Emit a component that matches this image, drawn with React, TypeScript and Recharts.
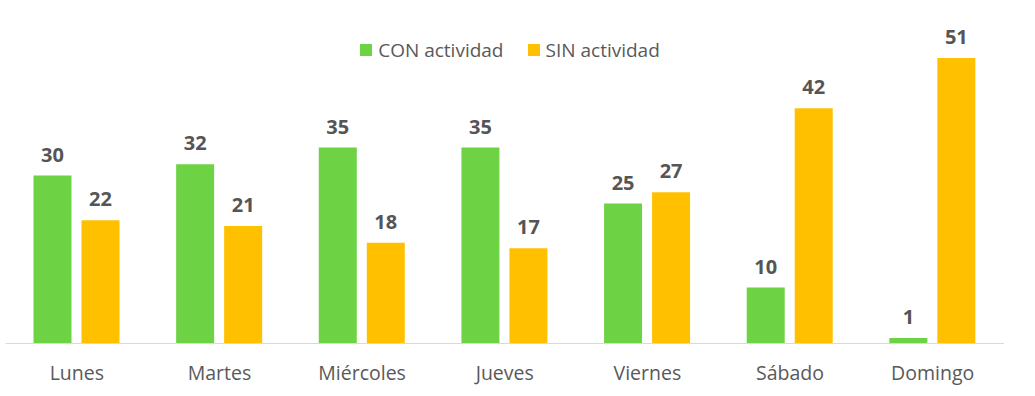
import React from 'react';
import { BarChart, Bar, XAxis, YAxis, Legend, LabelList } from 'recharts';

const dias = ['Lunes', 'Martes', 'Miércoles', 'Jueves', 'Viernes', 'Sábado', 'Domingo'];
const conActividad = [30, 32, 35, 35, 25, 10, 1];
const sinActividad = [22, 21, 18, 17, 27, 42, 51];

const data = dias.map((dia, i) => ({
    dia,
    con: conActividad[i],
    sin: sinActividad[i],
}));

const FONT = '"Open Sans", sans-serif';

const LegendContent = ({ payload }: any) => (
    <div style={{ display: 'flex', justifyContent: 'center', fontFamily: FONT, fontSize: 19, color: '#595959' }}>
        {(payload || []).map((p: any, i: number) => (
            <div key={i} style={{ display: 'flex', alignItems: 'center', marginRight: i === 0 ? 24 : 0 }}>
                <span style={{ display: 'inline-block', width: 12, height: 12, background: p.color, marginRight: 6 }} />
                <span>{p.value}</span>
            </div>
        ))}
    </div>
);

const App: React.FC = () => {
    return (
        <div style={{ width: 1035, height: 396, background: '#fff' }}>
            <style>{'body{margin:0}'}</style>
            <BarChart
                width={1035}
                height={396}
                data={data}
                margin={{ top: 7.6, right: 31, left: 5.5, bottom: 22.5 }}
                barGap={10}
                barSize={38}
            >
                <XAxis
                    dataKey="dia"
                    height={30}
                    tickLine={false}
                    axisLine={{ stroke: '#d9d9d9' }}
                    tickMargin={17}
                    tick={{ fill: '#595959', fontSize: 19.5, fontFamily: FONT }}
                />
                <YAxis hide domain={[0, 60]} />
                <Legend
                    verticalAlign="middle"
                    align="center"
                    content={<LegendContent />}
                    wrapperStyle={{ top: 37, left: 10, width: 1000 }}
                />
                <Bar dataKey="con" name="CON actividad" fill="#6dd244" isAnimationActive={false}>
                    <LabelList dataKey="con" position="top" offset={14} fill="#555555" fontSize={20} fontWeight="bold" fontFamily={FONT} />
                </Bar>
                <Bar dataKey="sin" name="SIN actividad" fill="#ffc000" isAnimationActive={false}>
                    <LabelList dataKey="sin" position="top" offset={14} fill="#555555" fontSize={20} fontWeight="bold" fontFamily={FONT} />
                </Bar>
            </BarChart>
        </div>
    );
};

export default App;
